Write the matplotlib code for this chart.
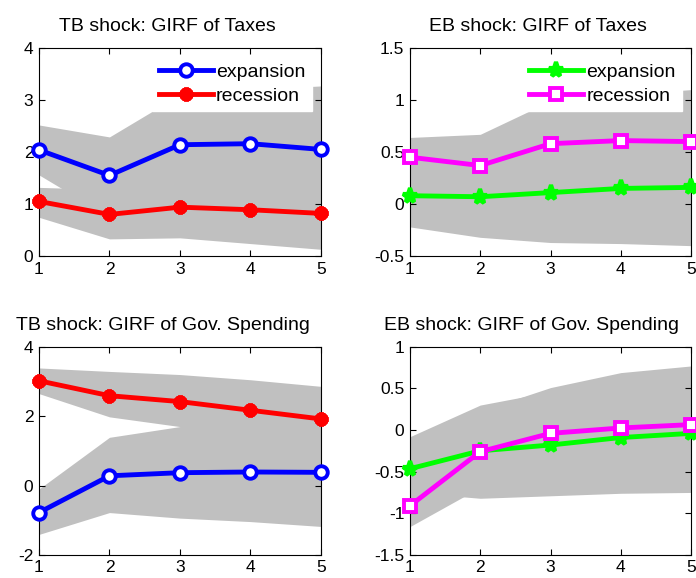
import matplotlib
matplotlib.use("Agg")
import matplotlib.pyplot as plt

plt.rcParams["font.family"] = ["Liberation Sans", "DejaVu Sans"]

horizon = [1, 2, 3, 4, 5]

# TB shock, taxes
tb_tax_exp = [2.04, 1.55, 2.14, 2.16, 2.05]
tb_tax_rec = [1.05, 0.80, 0.94, 0.89, 0.82]
tb_tax_exp_lo = [1.56, 0.75, 0.95, 1.00, 1.00]
tb_tax_exp_hi = [2.52, 2.29, 3.10, 3.20, 3.27]
tb_tax_rec_lo = [0.745, 0.33, 0.35, 0.24, 0.13]
tb_tax_rec_hi = [1.32, 1.28, 1.40, 1.40, 1.45]

# EB shock, taxes
eb_tax_exp = [0.08, 0.07, 0.11, 0.15, 0.16]
eb_tax_rec = [0.45, 0.37, 0.58, 0.61, 0.60]
eb_tax_exp_lo = [-0.22, -0.32, -0.37, -0.38, -0.40]
eb_tax_exp_hi = [0.35, 0.38, 0.45, 0.50, 0.52]
eb_tax_rec_lo = [0.15, 0.10, 0.20, 0.25, 0.25]
eb_tax_rec_hi = [0.64, 0.67, 0.99, 1.05, 1.10]

# TB shock, government spending
tb_gov_exp = [-0.78, 0.28, 0.37, 0.39, 0.38]
tb_gov_rec = [3.02, 2.59, 2.42, 2.17, 1.92]
tb_gov_exp_lo = [-1.41, -0.78, -0.94, -1.04, -1.18]
tb_gov_exp_hi = [-0.10, 1.39, 1.70, 1.85, 1.95]
tb_gov_rec_lo = [2.65, 1.98, 1.70, 1.60, 1.55]
tb_gov_rec_hi = [3.39, 3.29, 3.20, 3.05, 2.86]

# EB shock, government spending
eb_gov_exp = [-0.465, -0.25, -0.18, -0.09, -0.04]
eb_gov_rec = [-0.91, -0.26, -0.04, 0.025, 0.065]
eb_gov_exp_lo = [-0.75, -0.82, -0.79, -0.76, -0.75]
eb_gov_exp_hi = [-0.08, 0.30, 0.46, 0.60, 0.65]
eb_gov_rec_lo = [-1.16, -0.69, -0.50, -0.40, -0.35]
eb_gov_rec_hi = [-0.30, 0.23, 0.51, 0.69, 0.77]

band_color = "#c0c0c0"
tick_fs = 12.5
title_fs = 14
legend_fs = 14

fig = plt.figure(figsize=(6.96, 5.78), dpi=100)

positions = [
    [0.056, 0.557, 0.405, 0.360],
    [0.589, 0.557, 0.404, 0.360],
    [0.056, 0.040, 0.405, 0.360],
    [0.589, 0.040, 0.404, 0.360],
]


def setup(ax, title, title_x, ylim, yticks, yticklabels):
    ax.set_xlim(1, 5)
    ax.set_ylim(*ylim)
    ax.set_xticks(horizon)
    ax.set_yticks(yticks)
    ax.set_yticklabels(yticklabels)
    ax.tick_params(direction="in", top=True, right=True, length=4,
                   labelsize=tick_fs, pad=4)
    ax.set_title(title, fontsize=title_fs, pad=12, x=title_x)
    for s in ax.spines.values():
        s.set_linewidth(0.8)


def bands(ax, lo1, hi1, lo2, hi2):
    ax.fill_between(horizon, lo1, hi1, color=band_color, lw=0, zorder=1)
    ax.fill_between(horizon, lo2, hi2, color=band_color, lw=0, zorder=1)


blue = dict(color="#0000ff", lw=3.5, marker="o", ms=9, mew=2.8,
            mfc="white", mec="#0000ff", clip_on=False, zorder=5)
red = dict(color="#ff0000", lw=3.5, marker=(8, 2, 0), ms=10, mew=3.5,
           mfc="#ff0000", mec="#ff0000", clip_on=False, zorder=5)
green = dict(color="#00ff00", lw=3.5, marker="*", ms=11, mew=3,
             mfc="#00ff00", mec="#00ff00", clip_on=False, zorder=5)
magenta = dict(color="#ff00ff", lw=3.5, marker="s", ms=8, mew=2.8,
               mfc="white", mec="#ff00ff", clip_on=False, zorder=5)


def legend(ax):
    leg = ax.legend(loc="upper right", fontsize=legend_fs, frameon=True,
                    fancybox=False, framealpha=1, facecolor="white",
                    edgecolor="white", handlelength=2.8, handletextpad=0.15,
                    labelspacing=0.3, borderaxespad=0.45, borderpad=0.35)
    leg.set_zorder(10)


# top left
ax1 = fig.add_axes(positions[0])
bands(ax1, tb_tax_exp_lo, tb_tax_exp_hi, tb_tax_rec_lo, tb_tax_rec_hi)
ax1.plot(horizon, tb_tax_exp, label="expansion", **blue)
ax1.plot(horizon, tb_tax_rec, label="recession", **red)
setup(ax1, "TB shock: GIRF of Taxes", 0.456, (0, 4), [0, 1, 2, 3, 4],
      ["0", "1", "2", "3", "4"])
legend(ax1)

# top right
ax2 = fig.add_axes(positions[1])
bands(ax2, eb_tax_exp_lo, eb_tax_exp_hi, eb_tax_rec_lo, eb_tax_rec_hi)
ax2.plot(horizon, eb_tax_exp, label="expansion", **green)
ax2.plot(horizon, eb_tax_rec, label="recession", **magenta)
setup(ax2, "EB shock: GIRF of Taxes", 0.455, (-0.5, 1.5),
      [-0.5, 0, 0.5, 1, 1.5], ["-0.5", "0", "0.5", "1", "1.5"])
legend(ax2)

# bottom left
ax3 = fig.add_axes(positions[2])
bands(ax3, tb_gov_exp_lo, tb_gov_exp_hi, tb_gov_rec_lo, tb_gov_rec_hi)
ax3.plot(horizon, tb_gov_exp, **blue)
ax3.plot(horizon, tb_gov_rec, **red)
setup(ax3, "TB shock: GIRF of Gov. Spending", 0.438, (-2, 4), [-2, 0, 2, 4],
      ["-2", "0", "2", "4"])

# bottom right
ax4 = fig.add_axes(positions[3])
bands(ax4, eb_gov_exp_lo, eb_gov_exp_hi, eb_gov_rec_lo, eb_gov_rec_hi)
ax4.plot(horizon, eb_gov_exp, **green)
ax4.plot(horizon, eb_gov_rec, **magenta)
setup(ax4, "EB shock: GIRF of Gov. Spending", 0.432, (-1.5, 1),
      [-1.5, -1, -0.5, 0, 0.5, 1], ["-1.5", "-1", "-0.5", "0", "0.5", "1"])

fig.savefig("out.png", dpi=100)
